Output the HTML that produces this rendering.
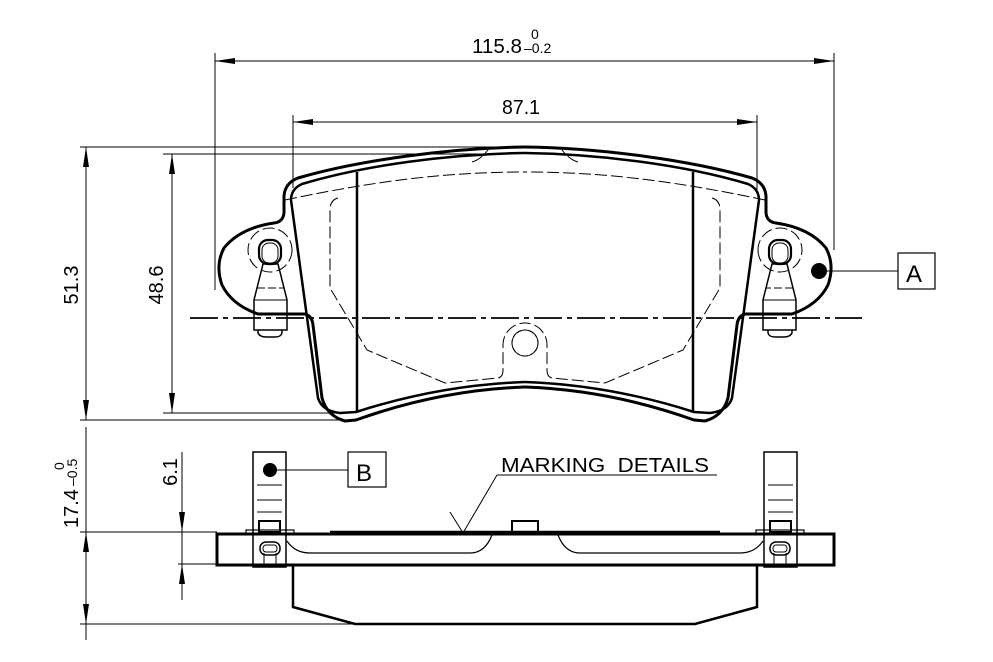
<!DOCTYPE html>
<html><head><meta charset="utf-8"><style>
html,body{margin:0;padding:0;background:#fff;}
svg{display:block;}
text{font-family:"Liberation Sans",sans-serif;fill:#000;}
</style></head><body>
<svg width="993" height="662" viewBox="0 0 993 662" xmlns="http://www.w3.org/2000/svg">
<defs>
<marker id="ar" viewBox="0 0 20 8" refX="20" refY="4" markerWidth="20" markerHeight="8" markerUnits="userSpaceOnUse" orient="auto-start-reverse"><path d="M0,1 L20,4 L0,7 Z" fill="#000"/></marker>
<g id="half">
  <path d="M525,147 C450,148 360,160 298,178 Q285,183 284,196 L284,213 Q283,222 274,223 Q240,228 224,248 Q215,265 222,285 Q232,305 258,314 L305,314 Q312,316 313,325 L322,398 Q327,416 345,421 L356,420 Q440,390 525,387" fill="none" stroke="#000" stroke-width="3"/>
  <path d="M525,153 C450,154 365,165 302,184 Q291,189 291,200 L318,398 Q322,411 340,413 L356,412 Q440,385 525,382" fill="none" stroke="#000" stroke-width="2.5"/>
  <line x1="357" y1="172" x2="357" y2="412" stroke="#000" stroke-width="2.5"/>
  <g fill="none" stroke="#000" stroke-width="1" stroke-dasharray="12,4">
    <path d="M285,200 C380,180 450,172 525,172"/>
    <path d="M472,162 Q480,160 488,150"/>
    <path d="M338,198 Q330,200 330,210 L330,288 L367,350 L445,383 L498,378 Q503,377 503,370 L503,345 A22,22 0 0 1 525,323"/>
    <circle cx="270" cy="250" r="22"/>
  </g>
  <circle cx="525" cy="343" r="13" fill="none" stroke="#000" stroke-width="1" stroke-dasharray="10,3"/>
  <g fill="none" stroke="#000">
    <rect x="259" y="240" width="22" height="24" rx="9" stroke-width="2.2"/>
    <rect x="262" y="243" width="16" height="20" rx="7" stroke-width="1"/>
    <path d="M263,264 L254,300 L254,330 L287,330 L287,300 L278,264 Z" stroke-width="1.5"/>
    <line x1="254" y1="300" x2="287" y2="300" stroke-width="1"/>
    <line x1="257" y1="288" x2="284" y2="288" stroke-width="1" stroke-dasharray="8,3"/>
    <path d="M258,330 L258,333 Q260,337 266,337 L275,337 Q281,337 282,333 L282,330" stroke-width="1.5"/>
  </g>
  <g fill="none" stroke="#000">
    <rect x="253" y="452" width="33" height="115" stroke-width="1.5"/>
    <line x1="257" y1="485" x2="282" y2="485" stroke-width="1"/>
    <line x1="257" y1="500" x2="282" y2="500" stroke-width="1"/>
    <line x1="257" y1="512" x2="282" y2="512" stroke-width="1"/>
    <rect x="259" y="521" width="21" height="11" stroke-width="2"/>
    <rect x="246" y="530" width="48" height="4" stroke-width="1.2"/>
    <rect x="260" y="542" width="20" height="13" rx="6" stroke-width="1.5"/>
    <rect x="263" y="545" width="14" height="7" rx="3" stroke-width="1"/>
    <line x1="264" y1="553" x2="264" y2="567" stroke-width="1"/>
    <line x1="276" y1="553" x2="276" y2="567" stroke-width="1"/>
    <path d="M287,541 Q295,553 310,553 L470,553 Q485,553 492,535" stroke-width="1.2"/>
  </g>
</g>
</defs>

<use href="#half"/>
<use href="#half" transform="translate(1050,0) scale(-1,1)"/>

<line x1="190" y1="318" x2="862" y2="318" stroke="#000" stroke-width="1.8" stroke-dasharray="28,5,5,5"/>

<g stroke="#000" stroke-width="1" fill="none">
  <line x1="215" y1="53" x2="215" y2="290"/>
  <line x1="834" y1="53" x2="834" y2="250"/>
  <line x1="293" y1="115" x2="293" y2="188"/>
  <line x1="757" y1="115" x2="757" y2="190"/>
  <line x1="80" y1="147" x2="500" y2="147"/>
  <line x1="80" y1="420" x2="345" y2="420"/>
  <line x1="163" y1="154" x2="480" y2="154"/>
  <line x1="163" y1="413" x2="340" y2="413"/>
  <line x1="86" y1="427" x2="86" y2="640"/>
  <line x1="80" y1="532" x2="217" y2="532"/>
  <line x1="80" y1="624" x2="355" y2="624"/>
  <line x1="178" y1="564" x2="217" y2="564"/>
  <line x1="182" y1="452" x2="182" y2="600"/>
  <line x1="215" y1="61" x2="834" y2="61" marker-start="url(#ar)" marker-end="url(#ar)"/>
  <line x1="293" y1="122" x2="757" y2="122" marker-start="url(#ar)" marker-end="url(#ar)"/>
  <line x1="86" y1="147" x2="86" y2="420" marker-start="url(#ar)" marker-end="url(#ar)"/>
  <line x1="172" y1="154" x2="172" y2="413" marker-start="url(#ar)" marker-end="url(#ar)"/>
  <line x1="86" y1="532" x2="86" y2="624" marker-start="url(#ar)" marker-end="url(#ar)"/>
  <line x1="182" y1="500" x2="182" y2="532" marker-end="url(#ar)"/>
  <line x1="182" y1="596" x2="182" y2="564" marker-end="url(#ar)"/>
</g>

<g fill="none" stroke="#000">
  <rect x="217" y="534" width="617" height="31" stroke-width="3"/>
  <line x1="330" y1="532" x2="720" y2="532" stroke-width="2.5"/>
  <rect x="512" y="521" width="26" height="11" stroke-width="2"/>
  <path d="M293,565 L293,607 L355,624 L695,624 L757,607 L757,565" stroke-width="2.5"/>
  <path d="M497,475 L717,475" stroke-width="1"/>
  <path d="M497,475 L463,533" stroke-width="1"/>
  <path d="M450,512 L463,533" stroke-width="1"/>
  <rect x="348" y="452" width="38" height="35" stroke-width="1.2"/>
  <line x1="270" y1="470" x2="348" y2="470" stroke-width="1"/>
  <rect x="898" y="253" width="37" height="36" stroke-width="1.2"/>
  <line x1="819" y1="271" x2="898" y2="271" stroke-width="1"/>
</g>
<circle cx="270" cy="470" r="7" fill="#000"/>
<circle cx="819" cy="271" r="8" fill="#000"/>

<text x="472" y="53" font-size="20" textLength="50" lengthAdjust="spacingAndGlyphs">115.8</text>
<text x="524" y="53" font-size="14">–0.2</text>
<text x="531" y="39" font-size="14">0</text>
<text x="502" y="114" font-size="20" textLength="38" lengthAdjust="spacingAndGlyphs">87.1</text>
<text x="356" y="481" font-size="24">B</text>
<text x="906" y="282" font-size="24">A</text>
<text x="501" y="472" font-size="20" textLength="208" lengthAdjust="spacingAndGlyphs">MARKING&#160;&#160;DETAILS</text>
<text transform="translate(78,285) rotate(-90)" font-size="20" text-anchor="middle">51.3</text>
<text transform="translate(163,285) rotate(-90)" font-size="20" text-anchor="middle">48.6</text>
<text transform="translate(177,472) rotate(-90)" font-size="20" text-anchor="middle">6.1</text>
<text transform="translate(78,528) rotate(-90)" font-size="20">17.4</text>
<text transform="translate(77,486) rotate(-90)" font-size="14">–0.5</text>
<text transform="translate(64,470) rotate(-90)" font-size="14">0</text>
</svg>
</body></html>
